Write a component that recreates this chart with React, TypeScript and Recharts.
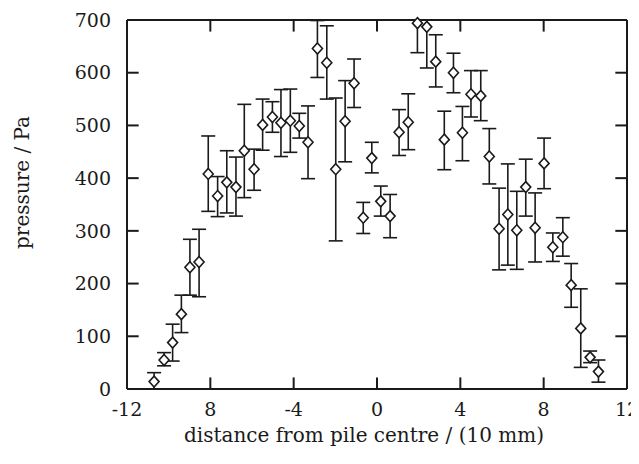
import { ScatterChart, Scatter, XAxis, YAxis, ErrorBar, ReferenceLine } from "recharts";

// pressure under the pile, measured along a line through its centre
const distance = [
  -10.7, -10.22, -9.81, -9.39, -8.98, -8.54, -8.1, -7.65, -7.21, -6.77,
  -6.37, -5.9, -5.49, -5.02, -4.61, -4.16, -3.73, -3.31, -2.86, -2.41,
  -1.98, -1.53, -1.1, -0.66, -0.25, 0.18, 0.63, 1.06, 1.5, 1.94,
  2.39, 2.82, 3.23, 3.67, 4.1, 4.51, 4.98, 5.39, 5.86, 6.28,
  6.71, 7.14, 7.59, 8.02, 8.44, 8.92, 9.32, 9.78, 10.23, 10.63,
];
const pressure = [
  14, 55, 88, 142, 231, 241, 408, 366, 392, 383,
  452, 417, 501, 516, 505, 509, 499, 468, 646, 619,
  417, 508, 580, 325, 438, 356, 328, 487, 506, 694,
  687, 621, 473, 600, 486, 559, 556, 441, 304, 331,
  301, 383, 306, 428, 269, 288, 197, 115, 60, 33,
];
const errBelow = [
  14, 11, 35, 35, 53, 66, 71, 39, 58, 55,
  89, 40, 48, 29, 64, 60, 23, 69, 55, 69,
  136, 77, 46, 30, 28, 28, 41, 44, 52, 56,
  78, 48, 57, 38, 53, 43, 47, 52, 78, 96,
  74, 55, 65, 48, 27, 36, 42, 74, 10, 20,
];
const errAbove = [
  17, 14, 35, 36, 53, 62, 72, 37, 60, 57,
  88, 38, 49, 29, 63, 60, 24, 69, 53, 70,
  135, 77, 46, 29, 30, 29, 41, 43, 54, 6,
  13, 51, 54, 37, 50, 45, 48, 53, 77, 96,
  74, 53, 66, 48, 27, 37, 41, 75, 12, 22,
];

const xTicks = [-12, -8, -4, 0, 4, 8, 12];
const xTickLabels = ["-12", "8", "-4", "0", "4", "8", "12"];
const yTicks = [0, 100, 200, 300, 400, 500, 600, 700];

const data = distance.map((x, i) => ({
  x,
  y: pressure[i],
  err: [errBelow[i], errAbove[i]],
}));

const font = "'DejaVu Serif', serif";
const ink = "#1a1a1a";
const tickX = 0.56; // inward tick length along x, in x units
const tickY = 22; // inward tick length along y, in pressure units

function Diamond(props: any) {
  const { cx, cy } = props;
  if (cx == null || cy == null) return null;
  return (
    <path
      d={`M${cx},${cy - 5.5} L${cx + 5},${cy} L${cx},${cy + 5.5} L${cx - 5},${cy} Z`}
      fill="#fff"
      stroke={ink}
      strokeWidth={1.6}
    />
  );
}

export default function App() {
  return (
    <ScatterChart width={631} height={444} margin={{ top: 12, right: 12, left: 0, bottom: 7 }}>
      <XAxis
        dataKey="x"
        type="number"
        domain={[-12, 12]}
        ticks={xTicks}
        tickFormatter={(v: number) => xTickLabels[xTicks.indexOf(v)] ?? String(v)}
        tickLine={false}
        tickSize={0}
        tickMargin={14}
        height={56}
        axisLine={{ stroke: ink, strokeWidth: 2 }}
        tick={{ fontFamily: font, fontSize: 19, fill: ink }}
        label={{
          content: (p: any) => {
            const vb = p.viewBox;
            return (
              <text
                x={vb.x + vb.width / 2 - 13}
                y={vb.y + 53}
                textAnchor="middle"
                fontFamily={font}
                fontSize={20}
                fill={ink}
              >
                distance from pile centre / (10 mm)
              </text>
            );
          },
        }}
      />
      <YAxis
        dataKey="y"
        type="number"
        domain={[0, 700]}
        ticks={yTicks}
        tickLine={false}
        tickSize={0}
        tickMargin={16}
        width={119}
        axisLine={{ stroke: ink, strokeWidth: 2 }}
        tick={{ fontFamily: font, fontSize: 19, fill: ink }}
        label={{
          content: (p: any) => {
            const vb = p.viewBox;
            const x = 14;
            const y = vb.y + vb.height / 2 - 22;
            return (
              <text
                x={x}
                y={y}
                transform={`rotate(-90, ${x}, ${y})`}
                textAnchor="middle"
                dominantBaseline="central"
                fontFamily={font}
                fontSize={20}
                fill={ink}
              >
                pressure / Pa
              </text>
            );
          },
        }}
      />

      <Scatter data={data} shape={Diamond} isAnimationActive={false}>
        <ErrorBar dataKey="err" direction="y" width={7} stroke={ink} strokeWidth={1.6} isAnimationActive={false} />
      </Scatter>

      {/* top and right edges of the box */}
      <ReferenceLine y={700} stroke={ink} strokeWidth={2} />
      <ReferenceLine x={12} stroke={ink} strokeWidth={2} />

      {/* inward tick marks */}
      {yTicks.slice(1, -1).map((v) => (
        <ReferenceLine key={`l${v}`} segment={[{ x: -12, y: v }, { x: -12 + tickX, y: v }]} stroke={ink} strokeWidth={2} />
      ))}
      {yTicks.slice(1, -1).map((v) => (
        <ReferenceLine key={`r${v}`} segment={[{ x: 12 - tickX, y: v }, { x: 12, y: v }]} stroke={ink} strokeWidth={2} />
      ))}
      {xTicks.slice(1, -1).map((v) => (
        <ReferenceLine key={`b${v}`} segment={[{ x: v, y: 0 }, { x: v, y: tickY }]} stroke={ink} strokeWidth={2} />
      ))}
      {xTicks.slice(1, -1).map((v) => (
        <ReferenceLine key={`t${v}`} segment={[{ x: v, y: 700 - tickY }, { x: v, y: 700 }]} stroke={ink} strokeWidth={2} />
      ))}
    </ScatterChart>
  );
}
